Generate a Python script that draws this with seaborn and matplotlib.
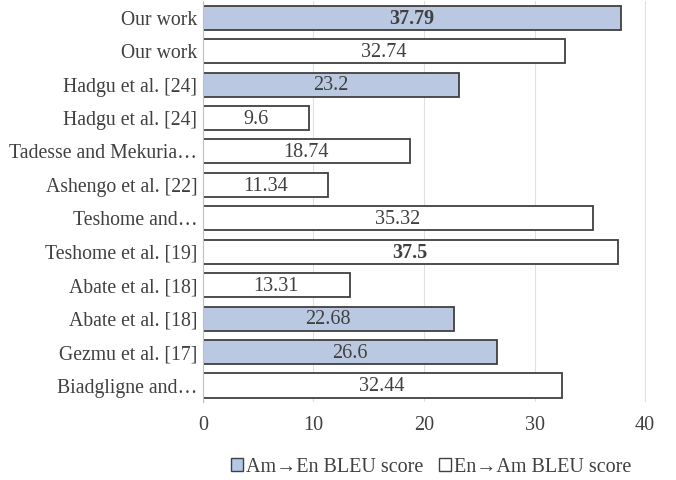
import matplotlib
matplotlib.use("Agg")
import matplotlib.pyplot as plt
import seaborn as sns
import pandas as pd
from matplotlib.patches import Patch

# Data, top to bottom as in the reference
labels = ["Our work", "Our work", "Hadgu et al. [24]", "Hadgu et al. [24]",
          "Tadesse and Mekuria\u2026", "Ashengo et al. [22]", "Teshome and\u2026",
          "Teshome et al. [19]", "Abate et al. [18]", "Abate et al. [18]",
          "Gezmu et al. [17]", "Biadgligne and\u2026"]
scores = [37.79, 32.74, 23.2, 9.6, 18.74, 11.34, 35.32, 37.5, 13.31, 22.68, 26.6, 32.44]
direction = ["Am\u2192En BLEU score", "En\u2192Am BLEU score", "Am\u2192En BLEU score",
             "En\u2192Am BLEU score", "En\u2192Am BLEU score", "En\u2192Am BLEU score",
             "En\u2192Am BLEU score", "En\u2192Am BLEU score", "En\u2192Am BLEU score",
             "Am\u2192En BLEU score", "Am\u2192En BLEU score", "En\u2192Am BLEU score"]
bold_values = [37.79, 37.5]
xticks = [0, 10, 20, 30, 40]

sns.set_theme(style="white")
plt.rcParams['font.family'] = ['Liberation Serif', 'DejaVu Serif']
text_color = "#404040"
fs = 14.5
palette = {"Am\u2192En BLEU score": "#B4C7E7", "En\u2192Am BLEU score": "#FFFFFF"}

df = pd.DataFrame({
    "row": [str(i) for i in range(len(labels))],
    "score": scores,
    "direction": direction,
})

fig = plt.figure(figsize=(6.76, 4.8), dpi=100)
ax = fig.add_axes([0.300, 0.162, 0.656, 0.836])

sns.barplot(data=df, x="score", y="row", hue="direction", palette=palette,
            dodge=False, width=0.72, edgecolor="#404040", linewidth=1.3,
            legend=False, ax=ax)

# value labels in the middle of each bar
for i, val in enumerate(scores):
    ax.text(val / 2, i + 0.04, f"{val:g}", ha="center", va="center", fontsize=fs,
            color=text_color,
            fontweight="bold" if val in bold_values else "normal")

ax.set_xlim(0, 40.1)
ax.set_xticks(xticks)
ax.set_xticklabels([str(t) for t in xticks], fontsize=fs, color=text_color)
ax.set_yticks(range(len(labels)))
ax.set_yticklabels(labels, fontsize=14.2, color=text_color)
ax.set_xlabel("")
ax.set_ylabel("")
ax.tick_params(axis="x", length=0, pad=10)
ax.tick_params(axis="y", length=0, pad=4)
ax.xaxis.grid(True, color="#E0E0E0", linewidth=0.8)
ax.set_axisbelow(True)
for side in ["top", "right", "bottom"]:
    ax.spines[side].set_visible(False)
ax.spines["left"].set_color("#BFBFBF")
ax.spines["left"].set_linewidth(0.8)

handles = [Patch(facecolor=palette[k], edgecolor="#404040", linewidth=1.0, label=k)
           for k in palette]
fig.legend(handles=handles, loc="center", bbox_to_anchor=(0.638, 0.027), ncol=2,
           frameon=False, fontsize=fs, handlelength=0.6, handleheight=0.6,
           handletextpad=0.15, columnspacing=0.8, labelcolor=text_color)

fig.savefig("out.png", dpi=100)
